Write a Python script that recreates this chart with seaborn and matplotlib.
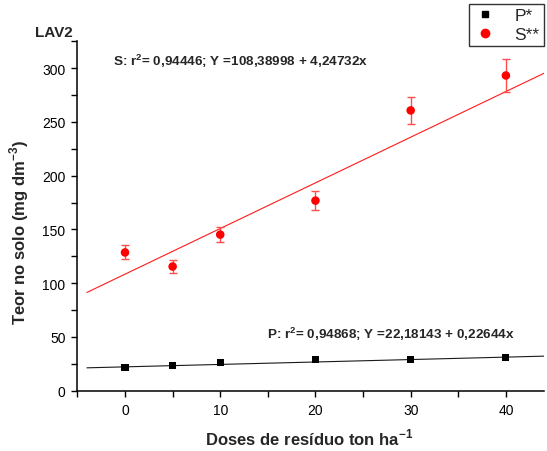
import numpy as np
import pandas as pd
import seaborn as sns
from matplotlib import pyplot as plt
from matplotlib.ticker import MultipleLocator
from matplotlib.lines import Line2D

# doses (ton/ha) and measured contents
doses = [0, 5, 10, 20, 30, 40]
s_vals = [128.6, 115.5, 145.2, 176.8, 260.7, 293.2]
s_err = [6.5, 5.9, 6.8, 9.1, 12.7, 15.0]
p_vals = [22.0, 23.2, 26.6, 29.1, 28.8, 31.3]

# fitted equations as printed on the chart
s_fit = (108.38998, 4.24732)
p_fit = (22.18143, 0.22644)
fit_x = [-4, 44]

sns.set_style('ticks')
plt.rcParams['font.family'] = ['Liberation Sans', 'DejaVu Sans']
plt.rcParams['mathtext.fontset'] = 'custom'
plt.rcParams['mathtext.rm'] = 'Liberation Sans'
plt.rcParams['mathtext.bf'] = 'Liberation Sans:bold'

fig = plt.figure(figsize=(5.47, 4.52), dpi=100)
ax = fig.add_axes([0.1415, 0.1334, 0.853, 0.773])

df = pd.DataFrame({'dose': doses * 2,
                   'teor': p_vals + s_vals,
                   'serie': ['P*'] * 6 + ['S**'] * 6})

fx = np.array(fit_x)
ax.plot(fx, s_fit[0] + s_fit[1]*fx, color='#ff1a1a', lw=0.8, zorder=1)
ax.plot(fx, p_fit[0] + p_fit[1]*fx, color='#1a1a1a', lw=0.8, zorder=1)
ax.errorbar(doses, s_vals, yerr=s_err, fmt='none', ecolor='#ff4d4d',
            elinewidth=1.0, capsize=2.6, capthick=1.0, zorder=2)

sns.scatterplot(data=df, x='dose', y='teor', hue='serie', style='serie',
                size='serie', sizes={'P*': 26, 'S**': 38},
                palette={'P*': 'black', 'S**': '#ff0000'},
                markers={'P*': 's', 'S**': 'o'},
                edgecolor='none', ax=ax, zorder=3, legend=False)

ax.set_xlim(-5, 44)
ax.set_ylim(0, 325)
ax.set_xticks([0, 10, 20, 30, 40])
ax.xaxis.set_minor_locator(MultipleLocator(5))
ax.yaxis.set_major_locator(MultipleLocator(50))
ax.yaxis.set_minor_locator(MultipleLocator(25))
ax.tick_params(which='both', direction='out', length=4, width=1, colors='black',
               labelsize=10, pad=4.5)
sns.despine(ax=ax)
for sp in ('left', 'bottom'):
    ax.spines[sp].set_linewidth(1.1)
    ax.spines[sp].set_color('black')

ax.set_xlabel('Doses de resíduo ton ha$^{\\mathbf{-1}}$', fontsize=12,
              fontweight='bold')
ax.set_ylabel('Teor no solo (mg dm$^{\\mathbf{-3}}$)', fontsize=12,
              fontweight='bold')
ax.xaxis.set_label_coords(0.497, -0.104)
ax.yaxis.set_label_coords(-0.1, 0.457)

fig.text(0.064, 0.928, 'LAV2', fontsize=11, fontweight='bold', va='center')
fig.text(0.206, 0.8547, 'S: r$^{\\mathbf{2}}$= 0,94446; Y =108,38998 + 4,24732x',
         fontsize=9.7, fontweight='bold', va='baseline')
fig.text(0.488, 0.25, 'P: r$^{\\mathbf{2}}$= 0,94868; Y =22,18143 + 0,22644x',
         fontsize=9.7, fontweight='bold', va='baseline')

handles = [Line2D([], [], ls='none', marker='s', color='black', markersize=5),
           Line2D([], [], ls='none', marker='o', color='#ff0000', markersize=6)]
leg = fig.legend(handles, ['P*', 'S**'], loc='upper right',
                 bbox_to_anchor=(0.9945, 0.9896), fontsize=12.5,
                 frameon=True, fancybox=False, edgecolor='black',
                 handlelength=1.4, handletextpad=1.0, borderpad=0.25,
                 labelspacing=0.2, borderaxespad=0)
leg.get_frame().set_linewidth(1.0)

fig.savefig('out.png', dpi=100)
